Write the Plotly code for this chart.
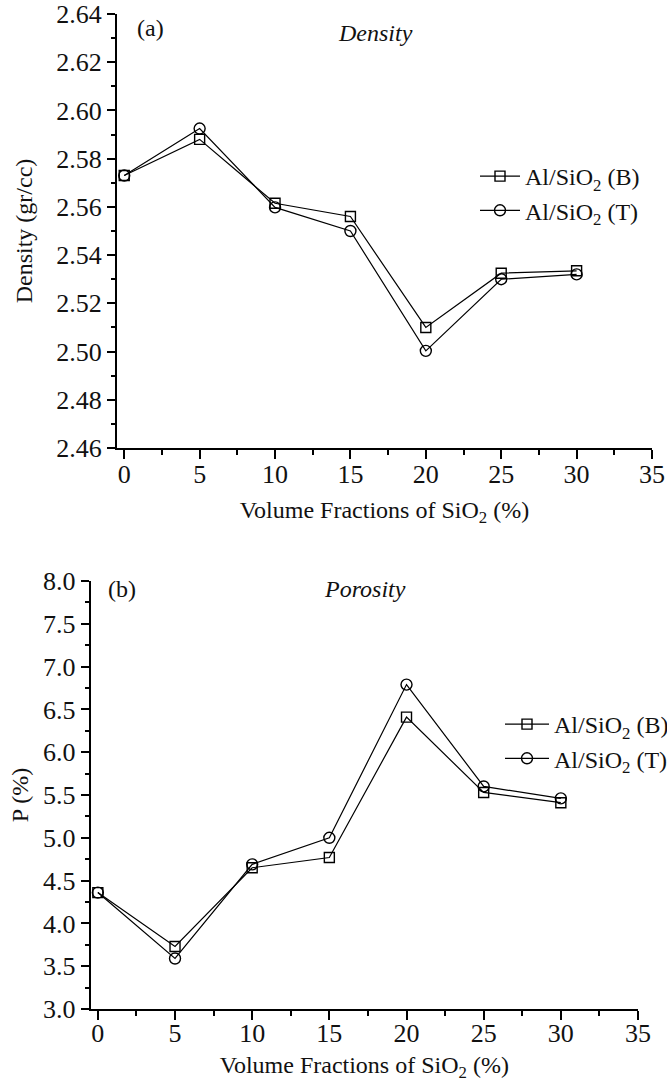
import plotly.graph_objects as go

# ---- data ----
x_vals = [0, 5, 10, 15, 20, 25, 30]
density_B = [2.573, 2.588, 2.5615, 2.556, 2.510, 2.5325, 2.5335]
density_T = [2.573, 2.5925, 2.5598, 2.550, 2.5003, 2.530, 2.532]
porosity_B = [4.36, 3.73, 4.65, 4.77, 6.41, 5.53, 5.41]
porosity_T = [4.36, 3.59, 4.69, 5.00, 6.79, 5.60, 5.46]
series_names = ["Al/SiO<sub>2</sub> (B)", "Al/SiO<sub>2</sub> (T)"]
x_ticks = [0, 5, 10, 15, 20, 25, 30, 35]

W, H = 667, 1082
FONT = "Liberation Serif, Times New Roman, serif"
TXT = "#111"

def px_x(p):
    return p / W

def px_y(p):
    return 1 - p / H

fig = go.Figure()

line_style = dict(color="black", width=1.2)
sq = dict(symbol="square-open", size=10, color="black", line=dict(width=1.4))
ci = dict(symbol="circle-open", size=11, color="black", line=dict(width=1.4))

fig.add_trace(go.Scatter(x=x_vals, y=density_B, mode="lines+markers", name=series_names[0],
                         line=line_style, marker=sq, xaxis="x", yaxis="y", legend="legend"))
fig.add_trace(go.Scatter(x=x_vals, y=density_T, mode="lines+markers", name=series_names[1],
                         line=line_style, marker=ci, xaxis="x", yaxis="y", legend="legend"))
fig.add_trace(go.Scatter(x=x_vals, y=porosity_B, mode="lines+markers", name=series_names[0],
                         line=line_style, marker=sq, xaxis="x2", yaxis="y2", legend="legend2"))
fig.add_trace(go.Scatter(x=x_vals, y=porosity_T, mode="lines+markers", name=series_names[1],
                         line=line_style, marker=ci, xaxis="x2", yaxis="y2", legend="legend2"))

axis_common = dict(
    showline=True, linecolor="black", linewidth=2, mirror=False,
    showgrid=False, zeroline=False, automargin=False,
    ticks="outside", tickcolor="black", tickwidth=1.6,
    tickfont=dict(family=FONT, size=26, color=TXT),
)
minor_x = dict(ticks="outside", dtick=2.5, tick0=0, ticklen=5, tickcolor="black", tickwidth=1.6)

x_title = "Volume Fractions of SiO<sub>2</sub> (%)"
TF = dict(family=FONT, size=24, color=TXT)

fig.update_layout(
    width=W, height=H,
    margin=dict(l=0, r=0, t=0, b=0, autoexpand=False),
    paper_bgcolor="white", plot_bgcolor="white",
    font=dict(family=FONT, size=24, color=TXT),
    xaxis=dict(domain=[px_x(117), px_x(652)], anchor="y", range=[-0.48, 35],
               tickvals=x_ticks, ticklen=9, minor=minor_x, ticklabelstandoff=-7,
               title=dict(text=x_title, font=TF, standoff=13),
               **axis_common),
    yaxis=dict(domain=[px_y(448), px_y(14)], anchor="x", range=[2.46, 2.64],
               dtick=0.02, tick0=2.46, tickformat=".2f", ticklen=8,
               minor=dict(ticks="outside", dtick=0.01, tick0=2.46, ticklen=4, tickcolor="black", tickwidth=1.6),
               title=dict(text="Density (gr/cc)", font=TF, standoff=17),
               **axis_common),
    xaxis2=dict(domain=[px_x(90.6), px_x(638)], anchor="y2", range=[-0.47, 35],
                tickvals=x_ticks, ticklen=9, minor=minor_x, ticklabelstandoff=-9,
                title=dict(text=x_title, font=TF, standoff=22),
                **axis_common),
    yaxis2=dict(domain=[px_y(1009), px_y(581)], anchor="x2", range=[3.0, 8.0],
                dtick=0.5, tick0=3.0, tickformat=".1f", ticklen=8,
                minor=dict(ticks="outside", dtick=0.25, tick0=3.0, ticklen=4, tickcolor="black", tickwidth=1.6),
                title=dict(text="P (%)", font=TF, standoff=8),
                **axis_common),
    legend=dict(x=px_x(475), y=px_y(154), xanchor="left", yanchor="top", itemwidth=40,
                bgcolor="rgba(0,0,0,0)", font=dict(family=FONT, size=24, color=TXT)),
    legend2=dict(x=px_x(500), y=px_y(702), xanchor="left", yanchor="top", itemwidth=44,
                 bgcolor="rgba(0,0,0,0)", font=dict(family=FONT, size=24, color=TXT)),
    showlegend=True,
    annotations=[
        dict(text="(a)", x=px_x(150), y=px_y(28), xref="paper", yref="paper",
             xanchor="center", yanchor="middle", showarrow=False, font=TF),
        dict(text="<i>Density</i>", x=px_x(375), y=px_y(33), xref="paper", yref="paper",
             xanchor="center", yanchor="middle", showarrow=False, font=TF),
        dict(text="(b)", x=px_x(122), y=px_y(589), xref="paper", yref="paper",
             xanchor="center", yanchor="middle", showarrow=False, font=TF),
        dict(text="<i>Porosity</i>", x=px_x(365), y=px_y(589), xref="paper", yref="paper",
             xanchor="center", yanchor="middle", showarrow=False, font=TF),
    ],
)

fig.write_html("out.html")
